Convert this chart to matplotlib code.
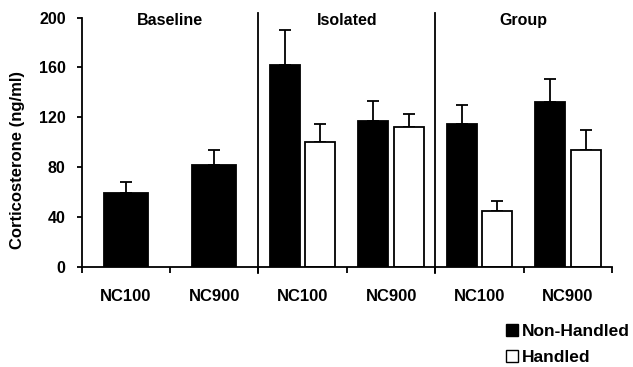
import numpy as np
import matplotlib
matplotlib.use('Agg')
import matplotlib.pyplot as plt
from matplotlib.patches import Patch

plt.rcParams['font.family'] = ['Liberation Sans', 'DejaVu Sans']
plt.rcParams['font.weight'] = 'bold'

groups = ['Baseline', 'Isolated', 'Group']
categories = ['NC100', 'NC900', 'NC100', 'NC900', 'NC100', 'NC900']
non_handled = [59, 82, 162, 117, 115, 132]
non_handled_err = [9, 12, 28, 16, 15, 19]
handled = [np.nan, np.nan, 100, 112, 45, 94]
handled_err = [np.nan, np.nan, 15, 11, 8, 16]

fig = plt.figure(figsize=(6.33, 3.67), dpi=100)
ax = fig.add_axes([0.129, 0.2733, 0.838, 0.6785])

x = np.arange(len(categories))
lw = 1.3

for i in x:
    if np.isnan(handled[i]):
        # baseline: only non-handled, wider bar
        ax.bar(i, non_handled[i], width=0.5, color='black', edgecolor='black', linewidth=lw, zorder=2)
        ax.errorbar(i, non_handled[i], yerr=[[0], [non_handled_err[i]]], fmt='none',
                    ecolor='black', elinewidth=lw, capsize=4, capthick=lw, zorder=1)
    else:
        ax.bar(i - 0.2, non_handled[i], width=0.34, color='black', edgecolor='black', linewidth=lw, zorder=2)
        ax.errorbar(i - 0.2, non_handled[i], yerr=[[0], [non_handled_err[i]]], fmt='none',
                    ecolor='black', elinewidth=lw, capsize=4, capthick=lw, zorder=1)
        ax.bar(i + 0.2, handled[i], width=0.34, color='white', edgecolor='black', linewidth=lw, zorder=2)
        ax.errorbar(i + 0.2, handled[i], yerr=[[0], [handled_err[i]]], fmt='none',
                    ecolor='black', elinewidth=lw, capsize=4, capthick=lw, zorder=1)

ax.set_xlim(-0.5, 5.5)
ax.set_ylim(0, 200)
ax.set_yticks([0, 40, 80, 120, 160, 200])
ax.set_xticks(x)
ax.set_xticklabels(categories, fontsize=12, fontweight='bold')
ax.tick_params(axis='x', length=0, pad=16)
ax.set_xticks(np.arange(-0.5, 6, 1), minor=True)
ax.tick_params(axis='x', which='minor', length=4.5, width=lw, direction='out')
ax.tick_params(axis='y', length=3.5, width=lw, pad=8, labelsize=11.5)
for t in ax.get_yticklabels():
    t.set_fontweight('bold')

for s in ['top', 'right']:
    ax.spines[s].set_visible(False)
for s in ['left', 'bottom']:
    ax.spines[s].set_linewidth(lw)

# group dividers
for xd in [1.5, 3.5]:
    ax.plot([xd, xd], [-5, 204], color='black', linewidth=lw, clip_on=False)

for j, g in enumerate(groups):
    ax.text(2 * j + 0.5, 197.5, g, ha='center', va='center', fontsize=11.5, fontweight='bold')

ax.set_ylabel('Corticosterone (ng/ml)', fontsize=12, fontweight='bold')
ax.yaxis.set_label_coords(-0.106, 0.43)

handles = [Patch(facecolor='black', edgecolor='black', label='Non-Handled'),
           Patch(facecolor='white', edgecolor='black', label='Handled')]
fig.legend(handles=handles, loc='upper left', bbox_to_anchor=(0.799, 0.117), frameon=False,
           handlelength=0.72, handleheight=0.72, handletextpad=0.2, labelspacing=0.6,
           prop={'size': 12.5, 'weight': 'bold'}, borderaxespad=0, borderpad=0)

fig.savefig('out.png', dpi=100)
